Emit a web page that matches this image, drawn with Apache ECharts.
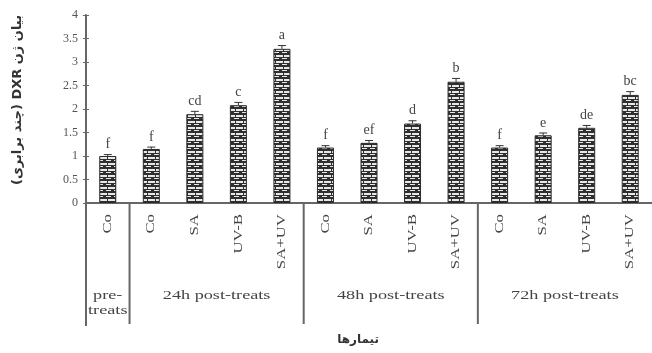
<!DOCTYPE html>
<html>
<head>
<meta charset="utf-8">
<script src="https://cdn.jsdelivr.net/npm/echarts@6/dist/echarts.min.js"></script>
<style>
  html, body { margin: 0; padding: 0; background: #fff; }
  #chart { width: 652px; height: 353px; }
</style>
</head>
<body>
<div id="chart"></div>
<script>
// Treatments along the x axis (13 bars)
const categories = ['Co', 'Co', 'SA', 'UV-B', 'SA+UV', 'Co', 'SA', 'UV-B', 'SA+UV', 'Co', 'SA', 'UV-B', 'SA+UV'];
// Relative DXR expression (fold change)
const values = [1.0, 1.15, 1.89, 2.08, 3.28, 1.18, 1.28, 1.69, 2.58, 1.18, 1.44, 1.6, 2.3];
// Standard errors
const errors = [0.03, 0.04, 0.06, 0.06, 0.07, 0.04, 0.05, 0.06, 0.07, 0.04, 0.05, 0.05, 0.07];
// Duncan group letters
const letters = ['f', 'f', 'cd', 'c', 'a', 'f', 'ef', 'd', 'b', 'f', 'e', 'de', 'bc'];
// Sampling-time groups: label and [first, last] category index
const groups = [
  { label: 'pre-\ntreats', from: 0, to: 0 },
  { label: '24h post-treats', from: 1, to: 4 },
  { label: '48h post-treats', from: 5, to: 8 },
  { label: '72h post-treats', from: 9, to: 12 }
];
const yTicks = { min: 0, max: 4, interval: 0.5 };
const yTitle = 'بیان ژن DXR (چند برابری)';
const xTitle = 'تیمارها';

const SERIF = '"Liberation Serif", "DejaVu Serif", serif';
const AR = '"DejaVu Sans", sans-serif';
const WIDE = 1.4; // horizontal stretch of the serif captions

// Brick-like hatch used to fill bars
function makePattern() {
  const c = document.createElement('canvas');
  c.width = 8; c.height = 6;
  const g = c.getContext('2d');
  g.fillStyle = '#2f2f2f';
  g.fillRect(0, 0, 8, 6);
  g.fillStyle = '#e8e8e8';
  g.fillRect(0, 1, 3, 2);
  g.fillRect(4, 1, 4, 2);
  g.fillRect(2, 4, 5, 1);
  return c;
}

const chart = echarts.init(document.getElementById('chart'), null, { renderer: 'canvas' });

chart.setOption({
  animation: false,
  backgroundColor: '#fff',
  grid: { left: 86, top: 15, width: 572, bottom: 150, containLabel: false },
  xAxis: {
    type: 'category',
    data: categories,
    axisLine: { lineStyle: { color: '#666', width: 2 } },
    axisTick: { show: false },
    axisLabel: { show: false }
  },
  yAxis: [{
    type: 'value',
    min: yTicks.min, max: yTicks.max, interval: yTicks.interval,
    axisLine: { show: true, lineStyle: { color: '#666', width: 2 } },
    axisTick: { show: true, length: 3, lineStyle: { color: '#666' } },
    axisLabel: { fontFamily: SERIF, fontSize: 12, color: '#555', margin: 8 },
    splitLine: { show: false }
  }, {
    type: 'value', position: 'left',
    min: yTicks.min, max: yTicks.max, interval: yTicks.interval,
    axisLine: { show: false },
    axisTick: { show: true, inside: true, length: 3, lineStyle: { color: '#666' } },
    axisLabel: { show: false },
    splitLine: { show: false }
  }],
  series: [{
    type: 'bar',
    data: values,
    barWidth: 17,
    itemStyle: {
      color: { image: makePattern(), repeat: 'repeat' },
      borderColor: '#2a2a2a',
      borderWidth: 1
    }
  }, {
    type: 'custom',
    data: values.map((v, i) => [i, v, errors[i]]),
    z: 5,
    renderItem: function (params, api) {
      const x = api.value(0), v = api.value(1), e = api.value(2);
      const top = api.coord([x, v + e]);
      const bot = api.coord([x, v]);
      const hw = 4;
      return {
        type: 'group',
        children: [
          { type: 'line', shape: { x1: top[0], y1: top[1], x2: bot[0], y2: bot[1] }, style: { stroke: '#333', lineWidth: 1 } },
          { type: 'line', shape: { x1: top[0] - hw, y1: top[1], x2: top[0] + hw, y2: top[1] }, style: { stroke: '#333', lineWidth: 1 } },
          { type: 'text', style: {
              text: letters[params.dataIndex], x: top[0], y: top[1] - 3,
              textAlign: 'center', textVerticalAlign: 'bottom',
              font: '14px ' + SERIF, fill: '#444'
          } }
        ]
      };
    }
  }]
});

// Category labels, group separators, group captions and axis titles
function drawDecorations() {
  const y0 = chart.convertToPixel({ yAxisIndex: 0 }, 0);
  const yTop = chart.convertToPixel({ yAxisIndex: 0 }, yTicks.max);
  const step = chart.convertToPixel({ xAxisIndex: 0 }, 1) - chart.convertToPixel({ xAxisIndex: 0 }, 0);
  const bottomY = y0 + 121;
  const elems = [];

  // vertical category labels, reading bottom to top
  categories.forEach((c, i) => {
    elems.push({
      type: 'text',
      x: chart.convertToPixel({ xAxisIndex: 0 }, i),
      y: y0 + 11,
      rotation: Math.PI / 2,
      scaleX: WIDE,
      style: {
        text: c, x: 0, y: 0,
        textAlign: 'right', textVerticalAlign: 'middle',
        font: '12px ' + SERIF, fill: '#444'
      }
    });
  });

  // y axis continues below the baseline
  const axisX = chart.convertToPixel({ xAxisIndex: 0 }, 0) - step / 2;
  elems.push({ type: 'line', shape: { x1: axisX, y1: y0, x2: axisX, y2: bottomY + 2 }, style: { stroke: '#666', lineWidth: 2 } });

  groups.forEach((g, k) => {
    const xa = chart.convertToPixel({ xAxisIndex: 0 }, g.from) - step / 2;
    const xb = chart.convertToPixel({ xAxisIndex: 0 }, g.to) + step / 2;
    if (k < groups.length - 1) {
      elems.push({ type: 'line', shape: { x1: xb, y1: y0, x2: xb, y2: bottomY }, style: { stroke: '#666', lineWidth: 2 } });
    }
    elems.push({
      type: 'text',
      x: (xa + xb) / 2, y: y0 + 85,
      scaleX: WIDE,
      style: {
        text: g.label, x: 0, y: 0,
        textAlign: 'center', textVerticalAlign: 'top',
        font: '13px ' + SERIF, fill: '#444', lineHeight: 15
      }
    });
  });

  // y axis title (right-to-left text, rotated)
  elems.push({
    type: 'text',
    x: 18, y: (yTop + y0) / 2 - 9,
    rotation: Math.PI / 2,
    style: {
      text: '\u202B' + yTitle + '\u202C', x: 0, y: 0,
      textAlign: 'center', textVerticalAlign: 'middle',
      font: 'bold 13px ' + AR, fill: '#333'
    }
  });

  // x axis title
  elems.push({
    type: 'text',
    x: (axisX + chart.convertToPixel({ xAxisIndex: 0 }, categories.length - 1)) / 2, y: 340,
    style: {
      text: xTitle, x: 0, y: 0,
      textAlign: 'center', textVerticalAlign: 'middle',
      font: 'bold 12px ' + AR, fill: '#333'
    }
  });

  chart.setOption({ graphic: elems });
}
drawDecorations();
</script>
</body>
</html>
